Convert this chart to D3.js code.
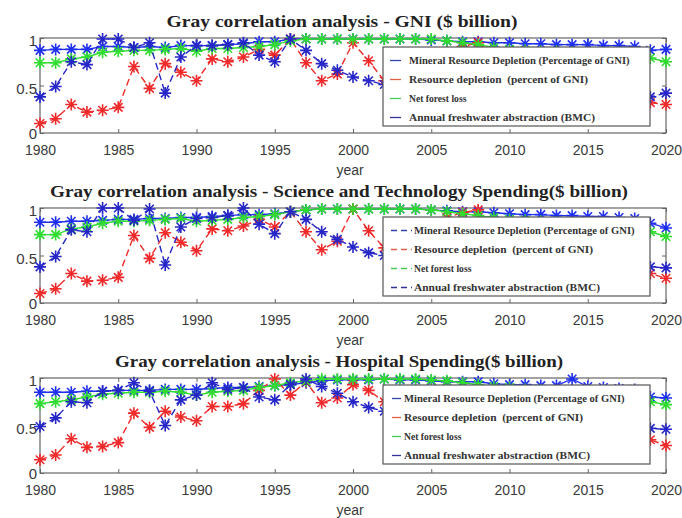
<!DOCTYPE html>
<html>
<head>
<meta charset="utf-8">
<script src="https://cdn.jsdelivr.net/npm/d3@7"></script>
<style>
  body { margin: 0; background: #fff; }
  svg { display: block; }
</style>
</head>
<body>
<script>
// ---- data ---------------------------------------------------------------
const years = [1980,1981,1982,1983,1984,1985,1986,1987,1988,1989,
               1990,1991,1992,1993,1994,1995,1996,1997,1998,1999,
               2000,2001,2002,2003,2004,2005,2006,2007,2008,2009,
               2010,2011,2012,2013,2014,2015,2016,2017,2018,2019,2020];
const xTicks = [1980,1985,1990,1995,2000,2005,2010,2015,2020];
const yTicks = [0, 0.5, 1];

const seriesNames = [
  "Mineral Resource Depletion (Percentage of GNI)",
  "Resource depletion\u00a0\u00a0(percent of GNI)",
  "Net forest loss",
  "Annual freshwater abstraction (BMC)"
];

const panelTitles = [
  "Gray correlation analysis - GNI ($ billion)",
  "Gray correlation analysis - Science and Technology Spending($ billion)",
  "Gray correlation analysis - Hospital Spending($ billion)"
];

// GNI
const gniMineral = [.87,.88,.88,.88,.91,.91,.90,.91,.90,.92,
                    .92,.92,.93,.94,.96,.96,.99,.99,.99,.99,
                    .99,.99,.99,.99,.99,.98,.97,.96,.96,.95,
                    .95,.94,.94,.93,.93,.93,.92,.92,.91,.87,.88];
const gniDepletion = [.10,.15,.30,.22,.24,.27,.70,.47,.73,.64,
                      .55,.78,.75,.80,.88,.82,.99,.74,.55,.62,
                      .95,.76,.55,.58,.66,.76,.85,.91,.95,.82,
                      .68,.58,.52,.47,.44,.41,.39,.37,.35,.32,.30];
const gniForest = [.74,.74,.78,.80,.85,.86,.87,.87,.88,.89,
                   .86,.89,.89,.90,.91,.93,.97,.99,.99,.99,
                   .99,.99,.99,.99,.99,.99,.97,.95,.93,.90,
                   .88,.87,.86,.86,.85,.84,.84,.83,.82,.79,.75];
const gniWater = [.38,.49,.75,.72,.99,.99,.90,.95,.42,.80,
                  .92,.92,.93,.95,.82,.75,.99,.87,.73,.66,
                  .59,.55,.51,.50,.49,.48,.47,.47,.46,.46,
                  .45,.45,.44,.43,.42,.41,.40,.39,.39,.38,.42];

// Science and Technology Spending
const sciMineral = [.85,.85,.86,.86,.87,.88,.88,.89,.89,.90,
                    .90,.91,.92,.93,.93,.94,.96,.98,.99,.99,
                    .99,.99,.99,.99,.99,.98,.97,.96,.96,.95,
                    .94,.93,.93,.92,.92,.91,.91,.90,.89,.84,.79];
const sciDepletion = [.10,.15,.31,.23,.24,.27,.71,.47,.74,.64,
                      .55,.78,.76,.81,.88,.80,.96,.75,.56,.65,
                      .99,.76,.58,.62,.72,.82,.90,.95,.98,.80,
                      .65,.55,.49,.45,.42,.39,.37,.35,.33,.31,.26];
const sciForest = [.72,.72,.78,.80,.84,.86,.86,.87,.88,.89,
                   .86,.87,.88,.90,.91,.93,.96,.98,.99,.99,
                   .99,.99,.99,.99,.99,.98,.96,.94,.92,.90,
                   .88,.87,.86,.85,.84,.83,.82,.81,.80,.75,.70];
const sciWater = [.38,.49,.77,.75,1.0,1.0,.87,.99,.40,.80,
                  .89,.90,.92,1.0,.83,.73,.96,.88,.75,.67,
                  .59,.53,.50,.49,.48,.47,.46,.46,.45,.45,
                  .44,.44,.43,.42,.42,.41,.40,.40,.39,.38,.37];

// Hospital Spending
const hospMineral = [.85,.85,.85,.86,.86,.87,.87,.87,.88,.88,
                     .88,.89,.90,.90,.91,.92,.93,.95,.97,.98,
                     .98,.98,.99,.98,.98,.97,.96,.96,.96,.94,
                     .93,.93,.92,.92,.99,.91,.90,.89,.88,.80,.79];
const hospDepletion = [.14,.19,.36,.27,.28,.32,.63,.48,.65,.59,
                       .55,.70,.70,.73,.87,.99,.82,.96,.74,.79,
                       .93,.87,.75,.70,.66,.62,.59,.56,.53,.51,
                       .49,.47,.45,.44,.42,.41,.40,.38,.37,.35,.29];
const hospForest = [.73,.75,.77,.80,.83,.84,.85,.85,.86,.85,
                    .82,.85,.86,.87,.90,.92,.95,.97,.99,.99,
                    .99,.99,.99,.99,.99,.98,.97,.95,.93,.91,
                    .90,.88,.87,.86,.85,.84,.83,.82,.80,.75,.72];
const hospWater = [.49,.58,.75,.74,.86,.87,.95,.86,.50,.77,
                   .82,.95,.88,.90,.80,.77,.93,.99,.91,.84,
                   .75,.69,.65,.62,.60,.58,.57,.56,.55,.54,
                   .53,.52,.52,.51,.51,.50,.50,.49,.49,.47,.46];

const panelSeries = [
  [gniMineral, gniDepletion, gniForest, gniWater],
  [sciMineral, sciDepletion, sciForest, sciWater],
  [hospMineral, hospDepletion, hospForest, hospWater]
];

// ---- styles & layout ----------------------------------------------------
const W = 682, H = 518;
const plotLeft = 40, plotRight = 666, plotH = 95;
const panelTops = [38, 208, 378];
const titleLayout = [
  { cx: 342, width: 351 },
  { cx: 339, width: 578 },
  { cx: 339, width: 448 }
];
const lineColors   = ["#1f2ff0", "#f02a2a", "#2fdc2f", "#2626c8"];
const legendColors = ["#3344aa", "#e0604a", "#44cc55", "#33339a"];
const lineDash     = [null, "7,4", null, "7,4"];
const legendFont   = [10.6, 11.4, 9.6, 11.4];
const legendLayout = [
  { top: 47,  textX: 409, s0: 390, s1: 401, dash: null },
  { top: 217, textX: 414, s0: 391, s1: 412, dash: "6,4" },
  { top: 385, textX: 404, s0: 392, s1: 401, dash: null }
];

const svg = d3.select("body").append("svg")
  .attr("width", W).attr("height", H)
  .style("font-family", "'Liberation Sans', Arial, sans-serif");

const x = d3.scaleLinear().domain([1980, 2020]).range([plotLeft, plotRight]);

// asterisk marker: "+" and "x" overlaid
function starPath(r) {
  const d = r * Math.SQRT1_2;
  return `M${-r},0L${r},0M0,${-r}L0,${r}M${-d},${-d}L${d},${d}M${-d},${d}L${d},${-d}`;
}
const star = starPath(6);

panelSeries.forEach((series, p) => {
  const top = panelTops[p];
  const y = d3.scaleLinear().domain([0, 1]).range([top + plotH, top]);
  const g = svg.append("g");

  // title
  g.append("text")
    .attr("x", titleLayout[p].cx)
    .attr("y", top - 11)
    .attr("text-anchor", "middle")
    .attr("textLength", titleLayout[p].width)
    .attr("lengthAdjust", "spacingAndGlyphs")
    .style("font-family", "'Liberation Serif', 'Times New Roman', serif")
    .style("font-weight", "bold")
    .style("font-size", "17.5px")
    .style("fill", "#222")
    .text(panelTitles[p]);

  // axes (ticks point inward, boxed)
  const axisStyle = sel => {
    sel.select(".domain").remove();
    sel.selectAll(".tick line").attr("stroke", "#666");
    sel.selectAll(".tick text").attr("fill", "#3a3a3a")
      .style("font-size", "14px")
      .style("font-family", "'Liberation Sans', Arial, sans-serif");
  };
  g.append("g").attr("transform", `translate(0,${top + plotH})`)
    .call(d3.axisBottom(x).tickValues(xTicks).tickFormat(d3.format("d"))
      .tickSize(-4).tickPadding(12))
    .call(axisStyle);
  g.append("g").attr("transform", `translate(0,${top})`)
    .call(d3.axisTop(x).tickValues(xTicks).tickFormat("").tickSize(-4))
    .call(axisStyle);
  g.append("g").attr("transform", `translate(${plotLeft},0)`)
    .call(d3.axisLeft(y).tickValues(yTicks).tickFormat(d => d).tickSize(-4).tickPadding(3))
    .call(axisStyle)
    .selectAll(".tick text")
    .style("font-size", "15px")
    .attr("dy", d => d === 0 ? "0.38em" : "0.5em");
  g.append("g").attr("transform", `translate(${plotRight},0)`)
    .call(d3.axisRight(y).tickValues(yTicks).tickFormat("").tickSize(-4))
    .call(axisStyle);

  g.append("rect")
    .attr("x", plotLeft).attr("y", top)
    .attr("width", plotRight - plotLeft).attr("height", plotH)
    .attr("fill", "none").attr("stroke", "#666").attr("stroke-width", 1.2);

  // x axis label
  g.append("text")
    .attr("x", (plotLeft + plotRight) / 2 - 3)
    .attr("y", top + plotH + 42)
    .attr("text-anchor", "middle")
    .style("font-size", "14px")
    .style("fill", "#3a3a3a")
    .text("year");

  // series lines and asterisk markers
  const line = d3.line().x((d, i) => x(years[i])).y(d => y(d));
  series.forEach((vals, s) => {
    const sg = g.append("g");
    sg.append("path")
      .datum(vals)
      .attr("d", line)
      .attr("fill", "none")
      .attr("stroke", lineColors[s])
      .attr("stroke-width", 1.4)
      .attr("stroke-dasharray", lineDash[s]);
    sg.selectAll("path.mk")
      .data(vals)
      .join("path")
      .attr("class", "mk")
      .attr("d", star)
      .attr("transform", (d, i) => `translate(${x(years[i])},${y(d)})`)
      .attr("fill", "none")
      .attr("stroke", lineColors[s])
      .attr("stroke-width", 1.6);
  });

  // legend
  const L = legendLayout[p];
  const lg = g.append("g");
  lg.append("rect")
    .attr("x", 383).attr("y", L.top)
    .attr("width", 267).attr("height", 79)
    .attr("fill", "#fff").attr("stroke", "#555").attr("stroke-width", 1.2);
  seriesNames.forEach((name, s) => {
    const cy = L.top + 13.5 + s * 19;
    lg.append("line")
      .attr("x1", L.s0).attr("x2", L.s1)
      .attr("y1", cy).attr("y2", cy)
      .attr("stroke", legendColors[s]).attr("stroke-width", 1.3)
      .attr("stroke-dasharray", L.dash);
    lg.append("text")
      .attr("x", L.textX).attr("y", cy + 3.5)
      .style("font-family", "'Liberation Serif', 'Times New Roman', serif")
      .style("font-weight", "bold")
      .style("font-size", legendFont[s] + "px")
      .style("fill", "#333")
      .text(name);
  });
});
</script>
</body>
</html>
